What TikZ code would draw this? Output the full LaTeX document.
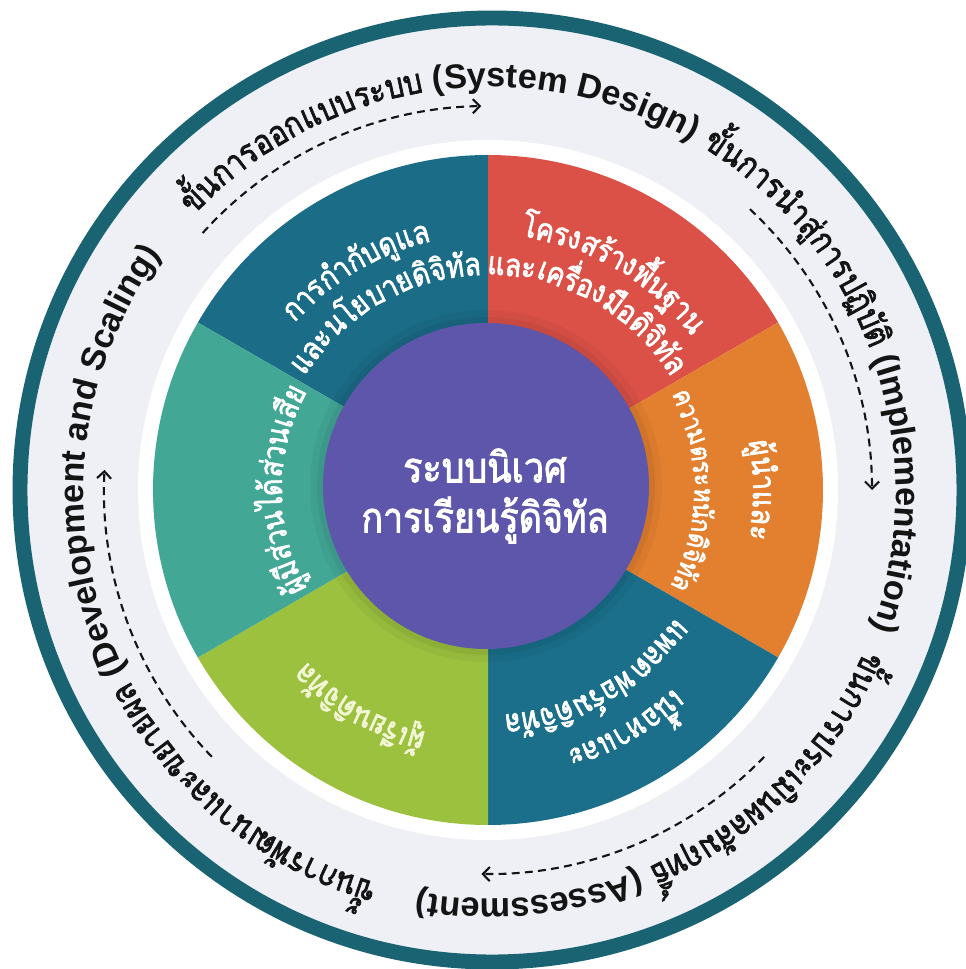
\documentclass[tikz,border=0pt]{standalone}
\usepackage{fontspec}
\usepackage{xcolor}
\usepackage{tikz}
\usetikzlibrary{arrows.meta,decorations.text}
\newfontfamily\thaifont[Script=Thai, FakeStretch=0.85, AutoFakeBold=2]{Loma}
\newfontfamily\latinfont{Liberation Sans}
\newcommand\phaseth{\thaifont\bfseries\fontsize{19.5pt}{24pt}\selectfont}
\newcommand\phaseen{\latinfont\bfseries\fontsize{19.5pt}{23pt}\selectfont}
\newcommand\sectorth{\thaifont\bfseries\fontsize{18pt}{21pt}\selectfont}
\newcommand\sectorsmall{\thaifont\bfseries\fontsize{15.5pt}{19pt}\selectfont}
\newcommand\coreth{\thaifont\bfseries\fontsize{24pt}{28.5pt}\selectfont}
\definecolor{ringteal}{RGB}{26,99,114}
\definecolor{ringfill}{RGB}{238,240,246}
\definecolor{phaseink}{RGB}{20,20,20}
\definecolor{govteal}{RGB}{27,108,135}
\definecolor{infrared}{RGB}{219,81,71}
\definecolor{leadorange}{RGB}{227,128,47}
\definecolor{platblue}{RGB}{27,111,138}
\definecolor{learngreen}{RGB}{156,193,63}
\definecolor{stakegreen}{RGB}{67,167,150}
\definecolor{corepurple}{RGB}{93,86,170}
\definecolor{learnink}{RGB}{242,245,214}

\begin{document}
\begin{tikzpicture}[x=0.02cm, y=0.02cm,
    phase/.style={decorate, decoration={text along path, text align=center,
        text color=phaseink, text={#1}}},
    sector/.style={decorate, decoration={text along path, text align=center,
        text color=white, text={#1}}},
    cycle arrow/.style={draw=phaseink, line width=1.2pt,
        dash pattern=on 4.5pt off 3pt, -{Straight Barb[length=4pt, width=8pt]}},
    core label/.style={text=white, align=center, font=\coreth}
]
\useasboundingbox (-488,-479) rectangle (477,490);
\fill[white] (-488,-479) rectangle (477,490);

% Outer ring
\coordinate (ringc) at (4,0);
\fill[ringfill] (ringc) circle (466);
\draw[ringteal, line width=8.5pt] (ringc) circle (472);

% White band and the six sectors
\fill[white] (0,0) circle (350);
\foreach \a/\col in {90/govteal, 30/infrared, -30/leadorange,
                     -90/platblue, 210/learngreen, 150/stakegreen}
  \fill[\col] (0,0) -- (\a:335) arc[start angle=\a, delta angle=60, radius=335] -- cycle;

% Core circle
\coordinate (corec) at (-2,4);
\fill[black, opacity=0.04] (corec) circle (176);
\fill[black, opacity=0.05] (corec) circle (169);
\fill[corepurple] (corec) circle (163);
\node[core label] (core) at (-3,-6) {ระบบนิเวศ\\การเรียนรู้ดิจิทัล};

% Sector labels
\path[sector={|\sectorth|{การ}{กำ}{กับ}{ดู}{แล}}]
  (161:255) arc[start angle=161, end angle=81, radius=255];
\path[sector={|\sectorth|{และ}{นโย}{บาย}{ดิ}{จิ}{ทัล}}]
  (160:215) arc[start angle=160, end angle=80, radius=215];
\path[sector={|\sectorth|{โครง}{สร้าง}{พื้น}{ฐาน}}]
  (100:255) arc[start angle=100, end angle=20, radius=255];
\path[sector={|\sectorth|{และ}{เครื่อง}{มือ}{ดิ}{จิ}{ทัล}}]
  (101:215) arc[start angle=101, end angle=21, radius=215];
\path[sector={|\sectorth|{ผู้}{นำ}{และ}}]
  (40:265) arc[start angle=40, end angle=-40, radius=265];
\path[sector={|\sectorsmall|{ความ}{ตระ}{หนัก}{ดิ}{จิ}{ทัล}}]
  (45:206) arc[start angle=45, end angle=-45, radius=206];
\path[sector={|\sectorth|{เนื้อ}{หา}{และ}}]
  (-20:271) arc[start angle=-20, end angle=-100, radius=271];
\path[sector={|\sectorth|{แพลต}{ฟอร์ม}{ดิ}{จิ}{ทัล}}]
  (-20:225) arc[start angle=-20, end angle=-100, radius=225];
\path[sector={|\sectorth|{ผู้}{เรียน}{ดิ}{จิ}{ทัล}}, decoration={text color=learnink}]
  (279.5:250) arc[start angle=279.5, end angle=199.5, radius=250];
\path[sector={|\sectorth|{ผู้}{มี}{ส่วน}{ได้}{ส่วน}{เสีย}}]
  (220:206) arc[start angle=220, end angle=140, radius=206];

% Phase names around the ring
\begin{scope}[shift={(2,-3)}]
\path[phase={|\phaseth|{ขั้น}{การ}{ออก}{แบบ}{ระ}{บบ} |\phaseen|(System Design)}]
  (178.5:406) arc[start angle=178.5, end angle=18.5, radius=406];
\path[phase={|\phaseth|{ขั้น}{การ}{นำ}{สู่}{การ}{ปฏิ}{บัติ} |\phaseen|(Implementation)}]
  (99.5:406) arc[start angle=99.5, end angle=-60.5, radius=406];
\path[phase={|\phaseth|{ขั้น}{การ}{ประ}{เมิน}{ผล}{สัม}{ฤทธิ์} |\phaseen|(Assessment)}]
  (18.5:406) arc[start angle=18.5, end angle=-141.5, radius=406];
\path[phase={|\phaseth|{ขั้น}{การ}{พัฒ}{นา}{และ}{ขยาย}{ผล} |\phaseen|(Development and Scaling)}]
  (289:406) arc[start angle=289, end angle=109, radius=406];
\end{scope}

% Dashed cycle arrows between phases
\foreach \s [count=\i] in {138,47,-44,224} {
  \coordinate (arrow\i) at (\s:384);
  \draw[cycle arrow] (arrow\i) arc[start angle=\s, delta angle=-47, radius=384];
}
\end{tikzpicture}
\end{document}
